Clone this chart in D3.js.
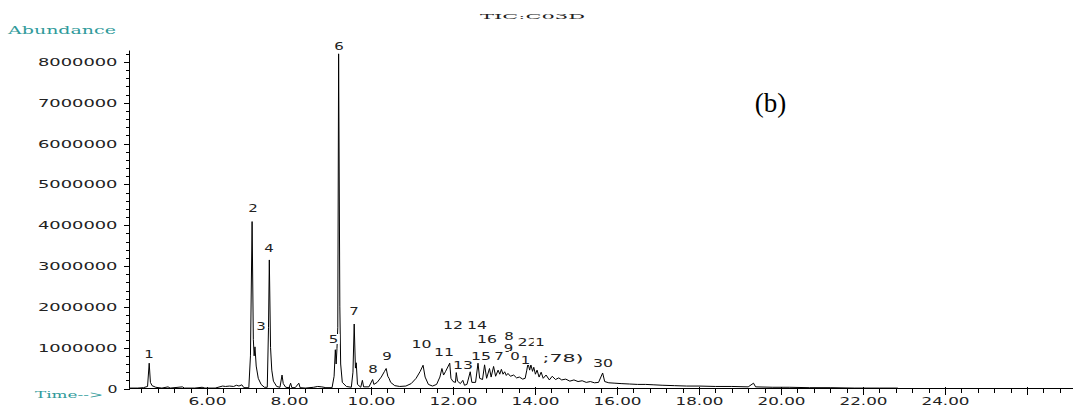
<!DOCTYPE html>
<html><head><meta charset="utf-8">
<script src="https://cdn.jsdelivr.net/npm/d3@7"></script>
<style>body{margin:0;background:#fff}svg{display:block}</style>
</head><body><svg id="c" width="1073" height="414"></svg>
<script>
// ---- data ----
const times = [
  4.10,4.30,4.45,4.55,4.59,4.62,4.66,4.75,4.90,5.05,
  5.10,5.40,5.45,5.70,5.88,5.95,6.20,6.38,6.45,6.55,
  6.65,6.72,6.78,6.85,6.90,7.02,7.06,7.10,7.13,7.15,
  7.17,7.20,7.25,7.32,7.40,7.47,7.50,7.52,7.55,7.58,
  7.62,7.70,7.78,7.83,7.86,7.92,8.00,8.04,8.07,8.15,
  8.24,8.27,8.40,8.60,8.70,8.80,8.90,9.05,9.10,9.13,
  9.15,9.17,9.19,9.21,9.24,9.26,9.30,9.40,9.52,9.56,
  9.59,9.62,9.64,9.67,9.75,9.79,9.82,9.95,10.04,10.07,
  10.15,10.25,10.33,10.37,10.41,10.44,10.48,10.58,10.70,10.85,
  10.98,11.10,11.20,11.27,11.32,11.40,11.50,11.60,11.68,11.73,
  11.77,11.82,11.92,11.95,12.00,12.06,12.08,12.11,12.18,12.24,
  12.28,12.34,12.42,12.46,12.55,12.61,12.65,12.72,12.77,12.82,
  12.89,12.93,12.99,13.04,13.10,13.14,13.18,13.22,13.26,13.30,
  13.34,13.40,13.48,13.55,13.62,13.70,13.76,13.80,13.83,13.87,
  13.90,13.94,13.97,14.01,14.05,14.10,14.15,14.20,14.27,14.35,
  14.42,14.50,14.58,14.65,14.75,14.85,14.95,15.05,15.15,15.25,
  15.35,15.45,15.55,15.65,15.70,15.80,15.95,16.10,16.30,16.50,
  16.70,16.90,17.10,17.40,17.70,18.00,18.40,18.80,19.20,19.33,
  19.38,19.80,20.20,20.70,21.20,21.80,22.40,22.85
];
const abundance = [
  10000,10000,20000,50000,620000,150000,70000,30000,10000,40000,
  10000,40000,10000,10000,30000,10000,10000,60000,50000,60000,
  50000,80000,60000,90000,20000,20000,800000,4090000,1200000,800000,
  1020000,550000,250000,100000,30000,30000,1500000,3150000,1000000,450000,
  180000,50000,30000,330000,120000,30000,20000,130000,20000,20000,
  130000,20000,10000,30000,50000,40000,20000,20000,300000,950000,
  600000,980000,1500000,8200000,2000000,600000,150000,50000,30000,400000,
  1580000,500000,630000,100000,30000,200000,40000,40000,220000,100000,
  150000,280000,420000,490000,300000,250000,150000,70000,50000,60000,
  120000,250000,420000,570000,280000,100000,60000,100000,280000,490000,
  330000,420000,620000,250000,170000,150000,390000,180000,120000,200000,
  80000,100000,410000,150000,150000,620000,250000,220000,580000,250000,
  490000,280000,540000,300000,450000,350000,470000,350000,410000,320000,
  370000,300000,330000,260000,280000,230000,250000,450000,620000,450000,
  580000,420000,520000,350000,450000,280000,400000,250000,330000,210000,
  300000,220000,260000,210000,230000,180000,210000,170000,190000,150000,
  170000,140000,150000,380000,170000,140000,130000,120000,110000,100000,
  100000,90000,80000,70000,60000,60000,50000,50000,40000,130000,
  40000,30000,30000,20000,20000,10000,10000,10000
];
const yTickValues = [0,1000000,2000000,3000000,4000000,5000000,6000000,7000000,8000000];
const yTickLabels = ["0","1000000","2000000","3000000","4000000","5000000","6000000","7000000","8000000"];
const xTickValues = [6,8,10,12,14,16,18,20,22,24,26];
const xTickLabels = ["6.00","8.00","10.00","12.00","14.00","16.00","18.00","20.00","22.00","24.00",""];
// peak labels: text, anchor time (min), anchor abundance (label baseline)
const peakLabels     = ["1","2","3","4","5","6","7","8","9","10","11","12","14","13","15","16","8","9","22","1","7","1","0",";78)","30"];
const peakLabelTimes = [4.585,7.122,7.317,7.512,9.085,9.220,9.585,10.049,10.390,11.232,11.780,12.0,12.585,12.244,12.683,12.829,13.366,13.354,13.817,14.122,13.122,13.770,13.512,14.683,15.659];
const peakLabelAbund = [747000,4325000,1433000,3345000,1115000,8295000,1801000,380000,698000,992000,796000,1458000,1458000,478000,698000,1115000,1188000,894000,1041000,1041000,698000,600000,698000,649000,527000];

// ---- layout ----
const svg = d3.select("#c");
const X0 = 129.5, X1 = 1073, Y0 = 388.5;
const xRef = d3.scaleLinear().domain([6,24]).range([207,945]);
const x = d3.scaleLinear().domain([xRef.invert(X0), xRef.invert(X1)]).range([X0, X1]);
const y = d3.scaleLinear().domain([0,8000000]).range([Y0,62]);
const teal = "#2f9a9a", ink = "#222";
const sansW = (sel, per, minus) => sel.attr("textLength", function(){const n=this.textContent.length; return n? n*per-minus : null;})
  .attr("lengthAdjust","spacingAndGlyphs");

// trace
const pts = times.map((t,i)=>[t, abundance[i]]);
svg.append("path").datum(pts)
  .attr("d", d3.line().x(d=>x(d[0])).y(d=>y(d[1])))
  .attr("fill","none").attr("stroke","#000").attr("stroke-width",1).attr("stroke-linejoin","miter");

// y axis
const gyMinor = svg.append("g").attr("transform",`translate(${X0},0)`)
  .call(d3.axisLeft(y).tickValues(d3.range(0,42).map(i=>i*200000)).tickSize(4).tickFormat(""));
gyMinor.select(".domain").remove();
const gy = svg.append("g").attr("transform",`translate(${X0},0)`)
  .call(d3.axisLeft(y).tickValues(yTickValues).tickSize(6).tickPadding(6).tickFormat((d,i)=>yTickLabels[i]));
gy.select(".domain").remove();
gy.selectAll("text").attr("font-family","DejaVu Sans").attr("font-size",11).attr("fill",ink).call(sansW,11.6,1.6);
svg.append("line").attr("x1",X0).attr("x2",X0).attr("y1",y(0)).attr("y2",y(8280000)).attr("stroke","#000");

// x axis
const gxMinor = svg.append("g").attr("transform",`translate(0,${Y0})`)
  .call(d3.axisBottom(x).tickValues(d3.range(11,68).map(i=>i*0.4)).tickSize(4).tickFormat(""));
gxMinor.select(".domain").remove();
const gx = svg.append("g").attr("transform",`translate(0,${Y0})`)
  .call(d3.axisBottom(x).tickValues(xTickValues).tickSize(6).tickFormat((d,i)=>xTickLabels[i]));
gx.select(".domain").remove();
gx.selectAll(".tick line").attr("y1",-2);
gx.selectAll("text").attr("y",16.5).attr("dy",0).attr("font-family","DejaVu Sans").attr("font-size",10).attr("fill",ink).call(sansW,10,2);
svg.append("line").attr("x1",X0).attr("x2",X1).attr("y1",Y0).attr("y2",Y0).attr("stroke","#000");
svg.selectAll(".tick line").attr("stroke","#000").attr("shape-rendering","crispEdges");

// peak labels with white backing
const gl = svg.append("g");
peakLabels.forEach((s,i)=>{
  const cx = x(peakLabelTimes[i]), by = y(peakLabelAbund[i]);
  const w = s.length*10.5;
  gl.append("rect").attr("x",cx-w/2-1).attr("y",by-9).attr("width",w+2).attr("height",10).attr("fill","#fff");
  gl.append("text").attr("x",cx).attr("y",by).attr("text-anchor","middle")
    .attr("font-family","DejaVu Sans").attr("font-size",11).attr("fill",ink)
    .text(s).attr("textLength",w-1).attr("lengthAdjust","spacingAndGlyphs");
});

// titles
svg.append("text").attr("x",8).attr("y",34).attr("font-family","DejaVu Serif").attr("font-size",11)
  .attr("fill",teal).attr("textLength",108).attr("lengthAdjust","spacingAndGlyphs").text("Abundance");
svg.append("text").attr("x",35).attr("y",398).attr("font-family","DejaVu Serif").attr("font-size",10)
  .attr("fill",teal).attr("textLength",68).attr("lengthAdjust","spacingAndGlyphs").text("Time-->");
svg.append("text").attr("x",480).attr("y",18.5).attr("font-family","DejaVu Serif").attr("font-size",8)
  .attr("fill",ink).attr("textLength",105).attr("lengthAdjust","spacingAndGlyphs").text("TIC:C03D");
svg.append("text").attr("x",770.5).attr("y",112).attr("text-anchor","middle").attr("font-family","Liberation Serif")
  .attr("font-size",27).attr("fill","#000").text("(b)");
</script></body></html>
